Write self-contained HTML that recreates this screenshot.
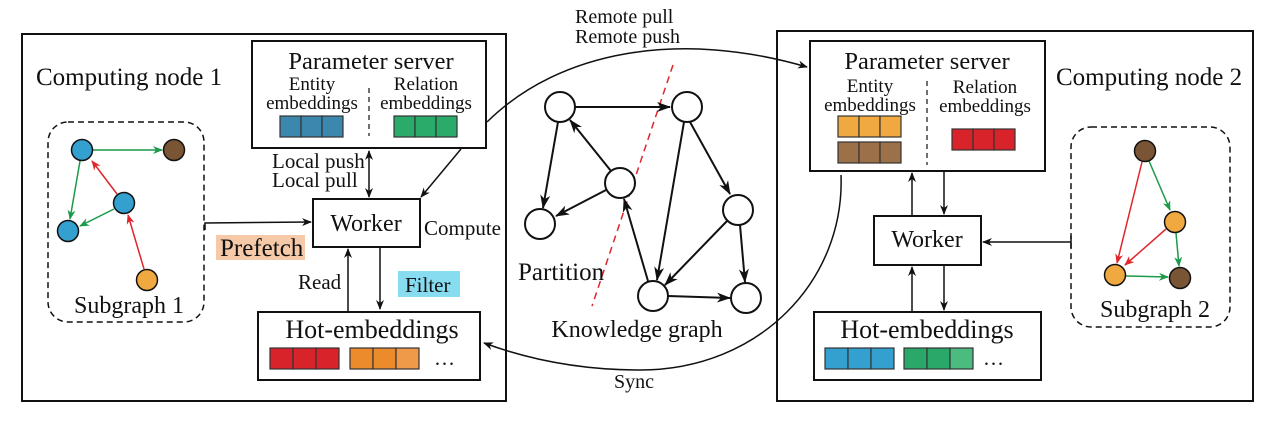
<!DOCTYPE html>
<html><head><meta charset="utf-8"><style>
html,body{margin:0;padding:0;background:#fff;}
svg{display:block;font-family:"Liberation Serif",serif;}
</style></head><body>
<svg width="1269" height="421" viewBox="0 0 1269 421" xmlns="http://www.w3.org/2000/svg">
<defs>
<marker id="ak" markerWidth="10" markerHeight="8" refX="9" refY="4" orient="auto-start-reverse" markerUnits="userSpaceOnUse"><path d="M0,0 L10,4 L0,8 L3,4 Z" fill="#111"/></marker>
<marker id="ag" markerWidth="10" markerHeight="8" refX="9" refY="4" orient="auto" markerUnits="userSpaceOnUse"><path d="M0,0 L10,4 L0,8 L3,4 Z" fill="#1a9a4a"/></marker>
<marker id="ar" markerWidth="10" markerHeight="8" refX="9" refY="4" orient="auto" markerUnits="userSpaceOnUse"><path d="M0,0 L10,4 L0,8 L3,4 Z" fill="#e0262b"/></marker>
<marker id="ab" markerWidth="14" markerHeight="10" refX="13" refY="5" orient="auto" markerUnits="userSpaceOnUse"><path d="M0,0 L14,5 L0,10 L4,5 Z" fill="#111"/></marker>
</defs>
<g fill="none" stroke="#111" stroke-width="2">
<rect x="22" y="34" width="484" height="367"/>
<rect x="252" y="41" width="234" height="107"/>
<rect x="313" y="199" width="107" height="48"/>
<rect x="258" y="312" width="222" height="68"/>
<rect x="777" y="31" width="476" height="370"/>
<rect x="810" y="41" width="235" height="130"/>
<rect x="874" y="216" width="107" height="49"/>
<rect x="814" y="312" width="227" height="68"/>
</g>
<g fill="none" stroke="#111" stroke-width="1.5" stroke-dasharray="6,4">
<rect x="48" y="122" width="156" height="200" rx="20"/>
<rect x="1071" y="127" width="159" height="200" rx="20"/>
<line x1="369" y1="88" x2="369" y2="136" stroke-dasharray="5,4" stroke-width="1.2"/>
<line x1="927" y1="81" x2="927" y2="165" stroke-dasharray="5,4" stroke-width="1.2"/>
</g>
<line x1="673" y1="65" x2="592" y2="306" stroke="#e0262b" stroke-width="1.5" stroke-dasharray="7,5"/>
<g stroke="#333" stroke-width="1.2">
<rect x="280" y="116" width="21" height="21" fill="#3c87ad"/><rect x="301" y="116" width="21" height="21" fill="#3c87ad"/><rect x="322" y="116" width="21" height="21" fill="#3c87ad"/>
<rect x="394" y="116" width="21" height="21" fill="#2aab6a"/><rect x="415" y="116" width="21" height="21" fill="#2aab6a"/><rect x="436" y="116" width="21" height="21" fill="#2aab6a"/>
<rect x="270" y="348" width="23" height="21" fill="#d8232b"/><rect x="293" y="348" width="23" height="21" fill="#d8232b"/><rect x="316" y="348" width="23" height="21" fill="#d8232b"/>
<rect x="350" y="348" width="23" height="21" fill="#ec8b2c"/><rect x="373" y="348" width="23" height="21" fill="#ec8b2c"/><rect x="396" y="348" width="23" height="21" fill="#ee9a48"/>
<rect x="838" y="116" width="21" height="21" fill="#f0a840"/><rect x="859" y="116" width="21" height="21" fill="#f0a840"/><rect x="880" y="116" width="21" height="21" fill="#f0a840"/>
<rect x="838" y="142" width="21" height="21" fill="#9c7048"/><rect x="859" y="142" width="21" height="21" fill="#9c7048"/><rect x="880" y="142" width="21" height="21" fill="#9c7048"/>
<rect x="952" y="129" width="21" height="21" fill="#d8232b"/><rect x="973" y="129" width="21" height="21" fill="#d8232b"/><rect x="994" y="129" width="21" height="21" fill="#d8232b"/>
<rect x="825" y="348" width="23" height="21" fill="#34a0d0"/><rect x="848" y="348" width="23" height="21" fill="#34a0d0"/><rect x="871" y="348" width="23" height="21" fill="#34a0d0"/>
<rect x="904" y="348" width="23" height="21" fill="#2aa86a"/><rect x="927" y="348" width="23" height="21" fill="#2aa86a"/><rect x="950" y="348" width="23" height="21" fill="#4bbb80"/>
</g>
<rect x="216" y="235" width="89" height="25" fill="#f6c9a8"/>
<rect x="398" y="271" width="62" height="26" fill="#87dcf0"/>
<g stroke="#111" stroke-width="1.5" fill="none">
<line x1="369" y1="151" x2="369" y2="197" marker-end="url(#ak)" marker-start="url(#ak)"/>
<line x1="461" y1="149" x2="421" y2="197" marker-end="url(#ak)"/>
<polyline points="205,230 205,223 311,222" marker-end="url(#ak)"/>
<line x1="348" y1="311" x2="348" y2="249" marker-end="url(#ak)"/>
<line x1="380" y1="248" x2="380" y2="309" marker-end="url(#ak)"/>
<line x1="912" y1="215" x2="912" y2="173" marker-end="url(#ak)"/>
<line x1="944" y1="172" x2="944" y2="214" marker-end="url(#ak)"/>
<line x1="912" y1="311" x2="912" y2="267" marker-end="url(#ak)"/>
<line x1="944" y1="266" x2="944" y2="310" marker-end="url(#ak)"/>
<line x1="1071" y1="242" x2="983" y2="242" marker-end="url(#ak)"/>
<line x1="1071" y1="236" x2="1071" y2="248"/>
<path d="M487,122 C560,50 680,30 807,67" marker-end="url(#ak)"/>
<path d="M841,175 C845,280 760,370 640,370 C580,370 530,360 484,343" marker-end="url(#ak)"/>
</g>
<g stroke="#111" stroke-width="2" fill="none">
<line x1="575" y1="107" x2="670" y2="107" marker-end="url(#ab)"/>
<line x1="558" y1="122" x2="543" y2="208" marker-end="url(#ab)"/>
<line x1="611" y1="171" x2="570" y2="120" marker-end="url(#ab)"/>
<line x1="606" y1="190" x2="556" y2="216" marker-end="url(#ab)"/>
<line x1="690" y1="122" x2="730" y2="194" marker-end="url(#ab)"/>
<line x1="684" y1="122" x2="657" y2="280" marker-end="url(#ab)"/>
<line x1="727" y1="221" x2="665" y2="285" marker-end="url(#ab)"/>
<line x1="740" y1="225" x2="745" y2="282" marker-end="url(#ab)"/>
<line x1="648" y1="281" x2="624" y2="199" marker-end="url(#ab)"/>
<line x1="668" y1="296" x2="730" y2="298" marker-end="url(#ab)"/>
</g>
<g stroke="#111" stroke-width="2" fill="#fff">
<circle cx="560" cy="107" r="15"/><circle cx="687" cy="107" r="15"/><circle cx="620" cy="183" r="15"/>
<circle cx="540" cy="224" r="15"/><circle cx="738" cy="210" r="15"/><circle cx="653" cy="296" r="15"/><circle cx="746" cy="298" r="15"/>
</g>
<g stroke-width="1.5">
<line x1="93" y1="150" x2="162" y2="150" stroke="#1a9a4a" marker-end="url(#ag)"/>
<line x1="80" y1="161" x2="70" y2="219" stroke="#1a9a4a" marker-end="url(#ag)"/>
<line x1="114" y1="209" x2="80" y2="226" stroke="#1a9a4a" marker-end="url(#ag)"/>
<line x1="117" y1="194" x2="92" y2="161" stroke="#e0262b" marker-end="url(#ar)"/>
<line x1="144" y1="269" x2="128" y2="215" stroke="#e0262b" marker-end="url(#ar)"/>
<line x1="1149" y1="161" x2="1170" y2="210" stroke="#1a9a4a" marker-end="url(#ag)"/>
<line x1="1176" y1="233" x2="1179" y2="266" stroke="#1a9a4a" marker-end="url(#ag)"/>
<line x1="1126" y1="276" x2="1168" y2="277" stroke="#1a9a4a" marker-end="url(#ag)"/>
<line x1="1142" y1="162" x2="1117" y2="263" stroke="#e0262b" marker-end="url(#ar)"/>
<line x1="1166" y1="229" x2="1125" y2="265" stroke="#e0262b" marker-end="url(#ar)"/>
</g>
<g stroke="#111" stroke-width="1.5">
<circle cx="82" cy="150" r="10.5" fill="#34a0d0"/><circle cx="174" cy="150" r="10.5" fill="#7a5535"/>
<circle cx="124" cy="203" r="10.5" fill="#34a0d0"/><circle cx="68" cy="231" r="10.5" fill="#34a0d0"/>
<circle cx="147" cy="280" r="10.5" fill="#f0a840"/>
<circle cx="1145" cy="151" r="10.5" fill="#7a5535"/><circle cx="1175" cy="222" r="10.5" fill="#f0a840"/>
<circle cx="1115" cy="275" r="10.5" fill="#f0a840"/><circle cx="1180" cy="278" r="10.5" fill="#7a5535"/>
</g>
<g fill="#111" text-anchor="middle">
<text x="371" y="69" font-size="24.5">Parameter server</text>
<text x="312" y="90" font-size="19">Entity</text>
<text x="312" y="109" font-size="19">embeddings</text>
<text x="426" y="90" font-size="19">Relation</text>
<text x="426" y="109" font-size="19">embeddings</text>
<text x="366" y="231" font-size="24">Worker</text>
<text x="372" y="338" font-size="26">Hot-embeddings</text>
<text x="129" y="313" font-size="24">Subgraph 1</text>
<text x="927" y="69" font-size="24.5">Parameter server</text>
<text x="870" y="92" font-size="19">Entity</text>
<text x="870" y="111" font-size="19">embeddings</text>
<text x="985" y="93" font-size="19">Relation</text>
<text x="985" y="112" font-size="19">embeddings</text>
<text x="927" y="247" font-size="24">Worker</text>
<text x="927" y="338" font-size="26">Hot-embeddings</text>
<text x="1155" y="317" font-size="24">Subgraph 2</text>
<text x="637" y="337" font-size="24">Knowledge graph</text>
<text x="634" y="388" font-size="20">Sync</text>
</g>
<g fill="#111" font-size="21">
<text x="36" y="85" font-size="25">Computing node 1</text>
<text x="1056" y="85" font-size="25">Computing node 2</text>
<text x="272" y="168">Local push</text>
<text x="272" y="187">Local pull</text>
<text x="424" y="235">Compute</text>
<text x="220" y="256" font-size="25">Prefetch</text>
<text x="298" y="289">Read</text>
<text x="405" y="292">Filter</text>
<text x="434" y="365">…</text>
<text x="983" y="365">…</text>
<text x="518" y="280" font-size="25">Partition</text>
<text x="575" y="23" font-size="20">Remote pull</text>
<text x="575" y="43" font-size="20">Remote push</text>
</g>
</svg>
</body></html>
